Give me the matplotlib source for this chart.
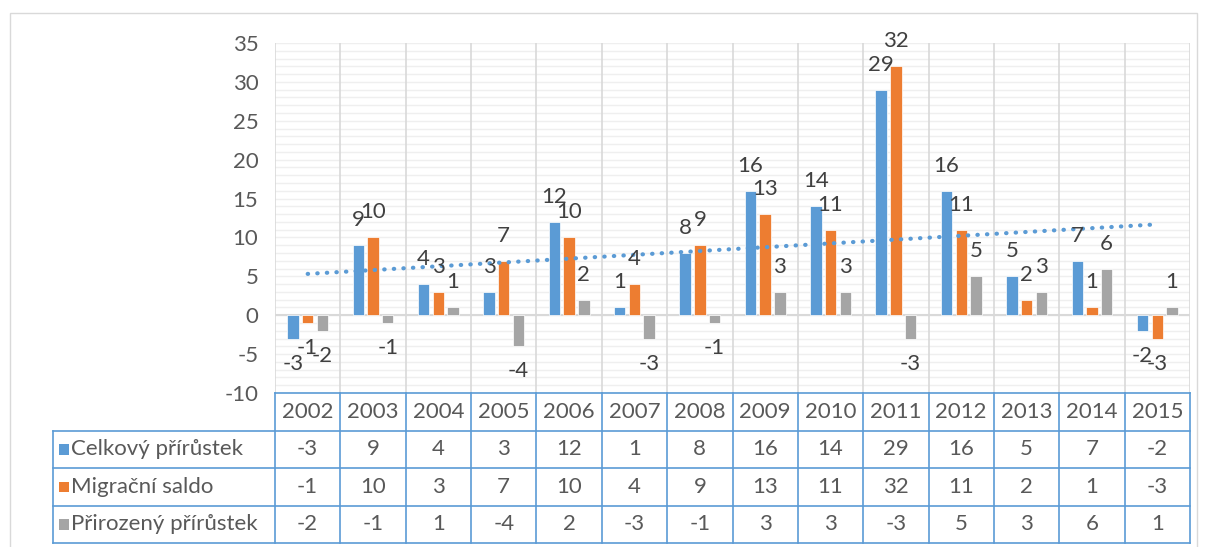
import numpy as np
import matplotlib.pyplot as plt
from matplotlib.patches import Rectangle

# Data
years = ['2002', '2003', '2004', '2005', '2006', '2007', '2008',
         '2009', '2010', '2011', '2012', '2013', '2014', '2015']
celkovy = [-3, 9, 4, 3, 12, 1, 8, 16, 14, 29, 16, 5, 7, -2]
migracni = [-1, 10, 3, 7, 10, 4, 9, 13, 11, 32, 11, 2, 1, -3]
prirozeny = [-2, -1, 1, -4, 2, -3, -1, 3, 3, -3, 5, 3, 6, 1]
series_names = ['Celkový přírůstek', 'Migrační saldo', 'Přirozený přírůstek']
colors = ['#5B9BD5', '#ED7D31', '#A5A5A5']

plt.rcParams['font.family'] = ['Lato', 'DejaVu Sans']
plt.rcParams['axes.unicode_minus'] = False
text_color = '#404040'
fs = 16

fig = plt.figure(figsize=(12.1, 5.47), dpi=100)
W, H = 1210, 547
px_left, px_right, px_top, px_axis, px_bottom = 275, 1190, 43, 393, 543

ax = fig.add_axes([px_left / W, 1 - px_axis / H, (px_right - px_left) / W, (px_axis - px_top) / H])
x = np.arange(len(years))
ax.set_xlim(-0.5, len(years) - 0.5)
ax.set_ylim(-10, 35)

# gridlines
for v in range(-10, 36):
    ax.axhline(v, color='#efefef', lw=1.0, zorder=0)
for b in np.arange(-0.5, len(years), 1):
    ax.axvline(b, color='#d9d9d9', lw=1.2, zorder=1)
ax.axhline(0, color='#d9d9d9', lw=1.5, zorder=1)

step = 0.225
width = 0.175
all_series = [celkovy, migracni, prirozeny]
for i, (vals, col) in enumerate(zip(all_series, colors)):
    pos = x + (i - 1) * step
    ax.bar(pos, vals, width=width, color=col, zorder=3, edgecolor='white', linewidth=0.5)
    for px_, v in zip(pos, vals):
        off = 25 if v >= 0 else -25
        ax.annotate(str(v), (px_, v), xytext=(0, off * 0.72), textcoords='offset points',
                    ha='center', va='center', fontsize=fs, color=text_color, zorder=5)

# linear trendline for Celkový přírůstek
k, q = np.polyfit(x, celkovy, 1)
ax.plot(x, k * x + q, linestyle=(0, (0.1, 2.2)), dash_capstyle='round',
        color='#5B9BD5', lw=3, zorder=4)

ax.set_yticks(range(-10, 36, 5))
ax.tick_params(axis='y', length=0, pad=12, labelsize=fs, labelcolor='#595959')
ax.set_xticks([])
for s in ax.spines.values():
    s.set_visible(False)

# data table
tax = fig.add_axes([px_left / W, 1 - px_bottom / H, (px_right - px_left) / W, (px_bottom - px_axis) / H])
tax.set_xlim(-0.5, len(years) - 0.5)
tax.set_ylim(4, 0)
tax.axis('off')
line_c = '#5B9BD5'
col_w = (px_right - px_left) / len(years)
x_leg = -0.5 - (px_left - 53) / col_w

for r in range(5):
    xl = -0.5 if r == 0 else x_leg
    tax.plot([xl, len(years) - 0.5], [r, r], color=line_c, lw=1.2, clip_on=False)
for b in np.arange(-0.5, len(years), 1):
    tax.plot([b, b], [0, 4], color=line_c, lw=1.2, clip_on=False)
tax.plot([x_leg, x_leg], [1, 4], color=line_c, lw=1.2, clip_on=False)

for j, yr in enumerate(years):
    tax.text(j, 0.5, yr, ha='center', va='center', fontsize=fs, color='#595959')
for r, (name, vals, col) in enumerate(zip(series_names, all_series, colors)):
    yc = r + 1.5
    tax.add_patch(Rectangle((x_leg + 6 / col_w, yc - 0.14), 10 / col_w, 0.28,
                            facecolor=col, clip_on=False))
    tax.text(x_leg + 18 / col_w, yc, name, ha='left', va='center', fontsize=fs, color='#595959')
    for j, v in enumerate(vals):
        tax.text(j, yc, str(v), ha='center', va='center', fontsize=fs, color='#595959')

# outer chart border
fig.patches.append(Rectangle((10 / W, -0.01), (1197 - 10) / W, 1 - 13 / H + 0.01,
                             transform=fig.transFigure, fill=False, edgecolor='#d9d9d9', lw=1))

fig.savefig('out.png', dpi=100)
